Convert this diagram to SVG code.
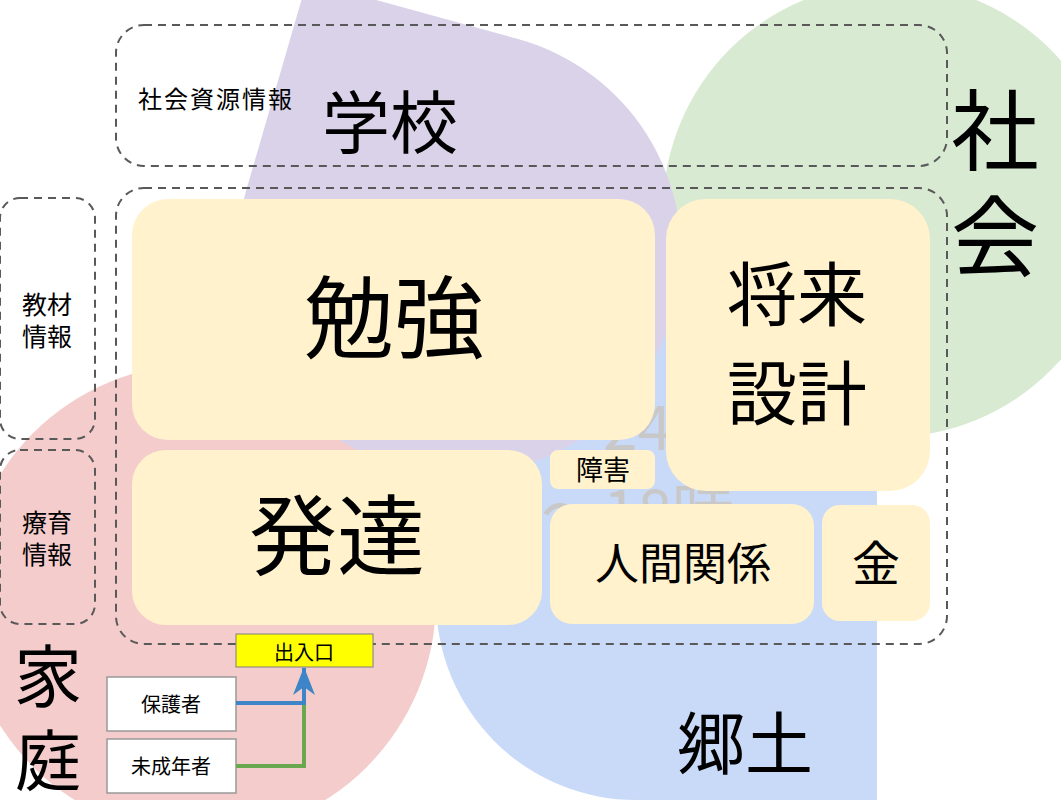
<svg xmlns="http://www.w3.org/2000/svg" width="1061" height="800" viewBox="0 0 1061 800">
<defs>
<style>
.dash{fill:none;stroke:#595959;stroke-width:2;stroke-dasharray:8 6}
.box{fill:#fff2cc}
.t{font-family:"Noto Sans CJK JP","Noto Sans",sans-serif;fill:#000;text-anchor:middle;dominant-baseline:central}
.g{font-family:"Noto Sans CJK JP","Noto Sans",sans-serif;fill:#c8c8c8;font-size:62px}
.wb{fill:#ffffff;stroke:#999999;stroke-width:1.5}
</style>
<marker id="arrB" markerUnits="userSpaceOnUse" markerWidth="28" markerHeight="22" viewBox="0 0 28 22" refX="27" refY="11" orient="auto">
<path d="M0,0 L28,11 L0,22 L8,11 Z" fill="#3d85c6"/>
</marker>
</defs>
<rect width="1061" height="800" fill="#ffffff"/>
<g id="areas">
<circle id="katei-area" cx="200" cy="600" r="236" fill="#f4cccc"/>
<path id="kyodo-area" d="M436,300 H677 A200,200 0 0 1 877,500 V800 H636 A200,200 0 0 1 436,600 Z" fill="#c9daf8"/>
<circle id="shakai-area" cx="890" cy="210" r="227" fill="#d9ead3"/>
<path id="gakko-area" d="M307,-19 L518,39 A222,222 0 1 1 246,191 Z" fill="#d9d2e9"/>
</g>
<g id="bg-text">
<text class="g" x="603" y="450">24</text>
<text class="g" x="541" y="535">〜18時</text>
</g>
<g id="frames">
<rect class="dash" x="116" y="25" width="831" height="141" rx="28"/>
<rect class="dash" x="116" y="188" width="831" height="456" rx="28"/>
<rect class="dash" x="0" y="198" width="95" height="241" rx="20"/>
<rect class="dash" x="0" y="450" width="95" height="174" rx="20"/>
</g>
<g id="labels">
<text class="t" x="216" y="97" font-size="24" letter-spacing="2">社会資源情報</text>
<text class="t" x="390" y="118" font-size="68">学校</text>
<text class="t" x="995" y="124" font-size="88">社</text>
<text class="t" x="995" y="230" font-size="88">会</text>
<text class="t" x="47" y="303" font-size="25">教材</text>
<text class="t" x="47" y="335" font-size="25">情報</text>
<text class="t" x="47" y="521" font-size="25">療育</text>
<text class="t" x="47" y="553" font-size="25">情報</text>
<text class="t" x="48" y="672" font-size="68">家</text>
<text class="t" x="48" y="756" font-size="66">庭</text>
<text class="t" x="745" y="739" font-size="68">郷土</text>
</g>
<g id="node-benkyo"><rect class="box" x="132" y="199" width="523" height="241" rx="36"/><text class="t" x="394" y="312" font-size="90">勉強</text></g>
<g id="node-shorai"><rect class="box" x="666" y="199" width="264" height="292" rx="40"/><text class="t" x="797" y="290" font-size="70">将来</text><text class="t" x="797" y="389" font-size="70">設計</text></g>
<g id="node-hattatsu"><rect class="box" x="132" y="450" width="410" height="175" rx="34"/><text class="t" x="337" y="529" font-size="88">発達</text></g>
<g id="node-shogai"><rect class="box" x="550" y="450" width="105" height="39" rx="8"/><text class="t" x="603" y="468" font-size="27">障害</text></g>
<g id="node-ningen"><rect class="box" x="550" y="504" width="264" height="120" rx="22"/><text class="t" x="683" y="561" font-size="44">人間関係</text></g>
<g id="node-kane"><rect class="box" x="822" y="505" width="108" height="116" rx="18"/><text class="t" x="876" y="560" font-size="48">金</text></g>
<g id="node-deiriguchi"><rect x="236" y="634" width="137" height="33" fill="#ffff00" stroke="#7f7f7f" stroke-width="1"/><text class="t" x="304" y="651" font-size="20">出入口</text></g>
<g id="node-hogosha"><rect class="wb" x="107" y="677" width="129" height="54"/><text class="t" x="171" y="703" font-size="20">保護者</text></g>
<g id="node-miseinen"><rect class="wb" x="107" y="739" width="129" height="54"/><text class="t" x="171" y="765" font-size="20">未成年者</text></g>
<g id="connectors">
<path d="M236,766 H304 V701" fill="none" stroke="#6aa84f" stroke-width="4"/>
<path d="M236,703 H304 V668" fill="none" stroke="#3d85c6" stroke-width="4" marker-end="url(#arrB)"/>
</g>
</svg>
